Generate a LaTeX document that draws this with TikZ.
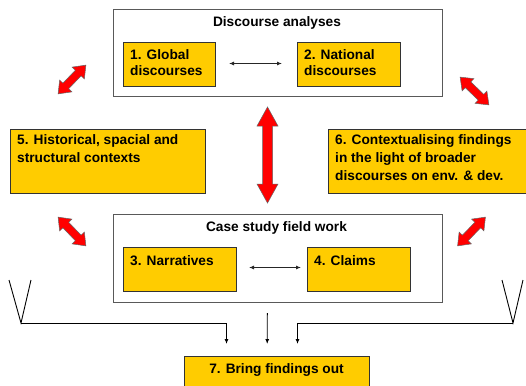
\documentclass[tikz,border=0pt]{standalone}
\usepackage{fontspec}
\setmainfont{Liberation Sans}
\usetikzlibrary{arrows.meta,calc}
\definecolor{boxyellow}{HTML}{FFCC00}
\begin{document}
\begin{tikzpicture}[x=1pt,y=-1pt,
  wbox/.style={draw=black!65, line width=1.2pt, fill=white, inner sep=0pt, anchor=north west},
  ybox/.style={draw=black!80, line width=1pt, fill=boxyellow, inner sep=0pt, anchor=north west},
  txta/.style={font=\fontsize{13.7}{16.7}\selectfont\bfseries, inner sep=0pt, align=left, anchor=north west},
  txtb/.style={font=\fontsize{13.7}{18}\selectfont\bfseries, inner sep=0pt, align=left, anchor=north west},
  ttl/.style={font=\fontsize{13.7}{16}\selectfont\bfseries, inner sep=0pt, anchor=base},
  small/.style={draw=black!85, line width=0.9pt, {Latex[length=5pt,width=4pt]}-{Latex[length=5pt,width=4pt]}},
  conn/.style={draw=black, line width=0.9pt},
  connarr/.style={conn, -{Latex[length=5pt,width=4pt]}},
  redarr/.style={fill=red, draw=black!60, line width=0.5pt, line join=miter},
  pics/redarrow/.style n args={4}{code={
    \filldraw[redarr] (-#1/2,0) -- (-#1/2+#2,-#3/2) -- (-#1/2+#2,-#4/2) -- (#1/2-#2,-#4/2)
      -- (#1/2-#2,-#3/2) -- (#1/2,0) -- (#1/2-#2,#3/2) -- (#1/2-#2,#4/2)
      -- (-#1/2+#2,#4/2) -- (-#1/2+#2,#3/2) -- cycle;
  }}
]
\useasboundingbox[fill=white] (0,0) rectangle (526,385);

% top group
\node[wbox, minimum width=329pt, minimum height=87pt] (da) at (113,9) {};
\node[ttl] (dat) at (277,27) {Discourse analyses};
\node[ybox, minimum width=92pt, minimum height=44pt] (b1) at (123,42) {};
\node[txta] (t1) at (130,49) {1. Global\\discourses};
\node[ybox, minimum width=103pt, minimum height=44pt] (b2) at (297,42) {};
\node[txta] (t2) at (304,49) {2. National\\discourses};
\draw[small] ($(b1.east)+(13,-1)$) -- ($(b2.west)+(-15,-1)$);

% side boxes
\node[ybox, minimum width=195pt, minimum height=64pt] (b5) at (10,129) {};
\node[txtb] (t5) at (17,134) {5. Historical, spacial and\\structural contexts};
\node[ybox, minimum width=210pt, minimum height=64pt] (b6) at (328,129) {};
\node[txtb] (t6) at (335,134) {6. Contextualising findings\\in the light of broader\\discourses on env. \& dev.};

% bottom group
\node[wbox, minimum width=329pt, minimum height=88pt] (cs) at (113,214) {};
\node[ttl] (cst) at (276.5,231.7) {Case study field work};
\node[ybox, minimum width=113pt, minimum height=44pt] (b3) at (123,247) {};
\node[txta] (t3) at (130,255) {3. Narratives};
\node[ybox, minimum width=103pt, minimum height=44pt] (b4) at (307,247) {};
\node[txta] (t4) at (314,255) {4. Claims};
\draw[small] ($(b3.east)+(12,-2)$) -- ($(b4.west)+(-6,-2)$);

% final box
\node[ybox, minimum width=185pt, minimum height=40pt] (b7) at (184,356) {};
\node[ttl] (t7) at (276.5,373.3) {7. Bring findings out};

% red double arrows
\pic[rotate=46] (ra1) at (72,79.5) {redarrow={40}{11}{17}{8}};
\pic[rotate=-44] (ra2) at (474.5,91) {redarrow={40}{11}{17}{8}};
\pic[rotate=-46] (ra3) at (72,231.5) {redarrow={40}{11}{17}{8}};
\pic[rotate=46] (ra4) at (471.5,231.5) {redarrow={40}{11}{17}{8}};
\pic[rotate=90] (ra5) at (267.5,155) {redarrow={96}{19}{21}{10}};

% funnels and connectors
\coordinate (vl) at (21,323);
\coordinate (vla) at (9,280);
\coordinate (vlb) at (31,280);
\coordinate (vr) at (513,323);
\coordinate (vra) at (502,280);
\coordinate (vrb) at (523,280);
\draw[conn] (vla) -- (vl) -- (vlb);
\draw[conn] (vra) -- (vr) -- (vrb);
\draw[connarr] (vl) -| ($(b7.north)+(-50.5,-12)$);
\draw[connarr] ($(cs.south)+(-10.8,10)$) -- ($(b7.north)+(-9.8,-12)$);
\draw[connarr] (vr) -| ($(b7.north)+(20.5,-12)$);
\end{tikzpicture}
\end{document}
